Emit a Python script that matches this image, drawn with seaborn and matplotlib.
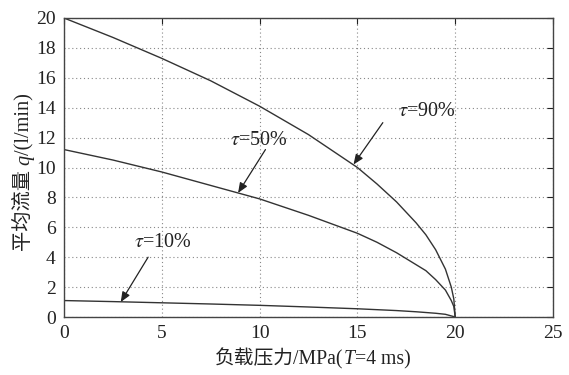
import numpy as np
import pandas as pd
import matplotlib
matplotlib.use("Agg")
import matplotlib.pyplot as plt
from matplotlib.transforms import IdentityTransform
import seaborn as sns

# Data
p90 = [0, 2.5, 5, 7.5, 10, 12.5, 15, 16, 17, 18, 18.5, 19, 19.5, 19.8, 19.93, 20]
q90 = [20, 18.7, 17.3, 15.8, 14.1, 12.2, 10.0, 8.9, 7.7, 6.3, 5.5, 4.5, 3.2, 2.0, 1.2, 0]
p50 = [0, 2.5, 5, 7.5, 10, 12.5, 15, 16, 17, 18, 18.5, 19, 19.5, 19.8, 19.93, 20]
q50 = [11.2, 10.5, 9.7, 8.8, 7.9, 6.8, 5.6, 5.0, 4.3, 3.5, 3.1, 2.5, 1.8, 1.1, 0.7, 0]
p10 = [0, 2.5, 5, 7.5, 10, 12.5, 15, 17, 18, 19, 19.5, 20]
q10 = [1.1, 1.03, 0.95, 0.87, 0.78, 0.67, 0.55, 0.43, 0.35, 0.25, 0.18, 0]

labels = ["90", "50", "10"]
xticks = [0, 5, 10, 15, 20, 25]
yticks = [0, 2, 4, 6, 8, 10, 12, 14, 16, 18, 20]

df = pd.concat([
    pd.DataFrame({"p": p90, "q": q90, "tau": "90"}),
    pd.DataFrame({"p": p50, "q": q50, "tau": "50"}),
    pd.DataFrame({"p": p10, "q": q10, "tau": "10"}),
])

sns.set_style("white")
FAM = ["Liberation Serif", "Noto Sans CJK SC", "DejaVu Sans"]
plt.rcParams["font.family"] = FAM
plt.rcParams["mathtext.fontset"] = "stix"

TXT = "#222222"
fig = plt.figure(figsize=(5.69, 3.75), dpi=100)
ax = fig.add_axes([64/569, 1-317/375, (553-64)/569, (317-18)/375])

sns.lineplot(data=df, x="p", y="q", hue="tau", palette=["#333333"]*3,
             linewidth=1.0, legend=False, ax=ax, sort=False)

ax.set_xlim(0, 25)
ax.set_ylim(0, 20)
ax.set_xticks(xticks)
ax.set_yticks(yticks)
ax.tick_params(direction="in", length=4, top=True, right=True,
               labelsize=14, colors=TXT, pad=6)
ax.grid(True, linestyle=(0, (1, 2.5)), color="#888888", linewidth=0.8)
for s in ax.spines.values():
    s.set_color("#444444")
    s.set_linewidth(1.0)
ax.set_xlabel("")
ax.set_ylabel("")


def rich_text(pieces, cx, cy, rotation=0, size=14):
    """Place text pieces (string, italic?) one after another, centred at cx,cy (pixels)."""
    r = fig.canvas.get_renderer()
    objs, widths = [], []
    for s, it in pieces:
        t = fig.text(0, 0, s, fontsize=size, family=FAM,
                     style="italic" if it else "normal", color=TXT,
                     ha="left", va="baseline", rotation_mode="anchor",
                     transform=IdentityTransform())
        widths.append(t.get_window_extent(r).width)
        objs.append(t)
    total = sum(widths)
    off = -total / 2
    for t, w in zip(objs, widths):
        if rotation == 0:
            t.set_position((cx + off, cy))
        else:
            t.set_rotation(90)
            t.set_position((cx, cy + off))
        off += w


rich_text([("负载压力/MPa(", False), ("T", True), ("=4 ms)", False)], 313, 375 - 364, size=14.2)
rich_text([("平均流量 ", False), ("q", True), ("/(l/min)", False)], 29, 375 - 172,
          rotation=90, size=14.6)

arrow = dict(arrowstyle="-|>,head_length=0.6,head_width=0.25", color=TXT, lw=0.9,
             shrinkA=0, shrinkB=0)
ax.annotate("", xy=(14.8, 10.2), xytext=(16.3, 13.0), arrowprops=arrow)
ax.text(17.1, 13.75, r"$\tau$=90%", fontsize=14.5, va="center", ha="left", color=TXT)
ax.annotate("", xy=(8.9, 8.3), xytext=(10.3, 11.2), arrowprops=arrow)
ax.text(8.5, 11.8, r"$\tau$=50%", fontsize=14.5, va="center", ha="left", color=TXT)
ax.annotate("", xy=(2.9, 1.0), xytext=(4.3, 4.0), arrowprops=arrow)
ax.text(3.6, 5.0, r"$\tau$=10%", fontsize=14.5, va="center", ha="left", color=TXT)

fig.savefig("out.png", dpi=100, facecolor="white")
